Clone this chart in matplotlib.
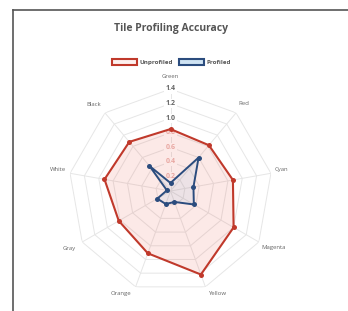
import numpy as np
import matplotlib
matplotlib.use("Agg")
import matplotlib.pyplot as plt
from matplotlib.patches import Patch
from matplotlib.lines import Line2D

categories = ["Green", "Red", "Cyan", "Magenta", "Yellow", "Orange", "Gray", "White", "Black"]
unprofiled = [0.85, 0.82, 0.87, 1.00, 1.22, 0.91, 0.82, 0.92, 0.88]
profiled = [0.11, 0.60, 0.32, 0.37, 0.16, 0.19, 0.21, 0.05, 0.45]
tick_values = [0.2, 0.4, 0.6, 0.8, 1.0, 1.2, 1.4]
tick_labels = ["0.2", "0.4", "0.6", "0.8", "1.0", "1.2", "1.4"]
series_names = ["Unprofiled", "Profiled"]
title = "Tile Profiling Accuracy"

plt.rcParams['font.family'] = ['Open Sans', 'DejaVu Sans']

W, H = 348, 311
fig = plt.figure(figsize=(W / 100, H / 100), dpi=100)
fig.patch.set_facecolor('white')

cx, cy = 170.5, 191.0
rx, ry = 111.0, 102.0
ax = fig.add_axes([(cx - rx) / W, (H - cy - ry) / H, 2 * rx / W, 2 * ry / H], projection='polar')
ax.set_theta_zero_location('N')
ax.set_theta_direction(-1)
ax.set_ylim(0, 1.4)
ax.grid(False)
ax.spines['polar'].set_visible(False)
ax.set_xticks([])
ax.set_yticks([])
ax.patch.set_alpha(0)

n = len(categories)
angles = np.arange(n) * 2 * np.pi / n
closed = np.concatenate([angles, angles[:1]])

grid_c = '#e6e6e6'
for r in tick_values:
    ax.plot(closed, [r] * (n + 1), color=grid_c, lw=0.7, zorder=1)
for a in angles:
    ax.plot([a, a], [0, 1.4], color=grid_c, lw=0.7, zorder=1)

red = '#c0392b'
blue = '#2b4c7e'
inner_limit = min(unprofiled)
for v, lab in zip(tick_values, tick_labels):
    col = '#666666' if v > inner_limit else '#e9b4b0'
    ax.text(0, v, lab, ha='center', va='center', fontsize=5, color=col,
            fontweight='bold', zorder=2,
            bbox=dict(boxstyle='square,pad=0.15', fc='white', ec='none'))

u = np.concatenate([unprofiled, unprofiled[:1]])
p = np.concatenate([profiled, profiled[:1]])
ax.fill(closed, u, color='#e74c3c', alpha=0.12, zorder=3, lw=0)
ax.plot(closed, u, color=red, lw=1.5, zorder=4)
ax.plot(angles, unprofiled, 'o', color=red, ms=3.6, mew=0, zorder=5)
ax.fill(closed, p, color='#3498db', alpha=0.08, zorder=3, lw=0)
ax.plot(closed, p, color=blue, lw=1.4, zorder=6)
ax.plot(angles, profiled, 'o', color=blue, ms=3.6, mew=0, zorder=7)

offsets = {
    "Green": (0, 12, 'center'), "Red": (2, 9, 'left'), "Cyan": (4, 4, 'left'),
    "Magenta": (3, -6, 'left'), "Yellow": (3, -7, 'left'), "Orange": (-4, -7, 'right'),
    "Gray": (-6, -6, 'right'), "White": (-4, 4, 'right'), "Black": (-4, 8, 'right'),
}
for a, c in zip(angles, categories):
    dx, dy, ha = offsets[c]
    ax.annotate(c, xy=(a, 1.4), xytext=(dx, dy), textcoords='offset pixels',
                ha=ha, va='center', fontsize=4.3, color='#666666', annotation_clip=False)

fig.text(171 / W, 1 - 28 / H, title, ha='center', va='center', fontsize=7.5,
         fontweight='bold', color='#555555')

handles = [Patch(facecolor='#fdf0ee', edgecolor=red, lw=1.5),
           Patch(facecolor='#cfe3f3', edgecolor=blue, lw=1.5)]
fig.legend(handles, series_names, loc='center', bbox_to_anchor=(171 / W, 1 - 62 / H),
           ncol=2, frameon=False, handlelength=4.0, handleheight=1.2,
           handletextpad=0.4, columnspacing=1.0, labelcolor='#555555',
           prop={'weight': 'bold', 'size': 4.5})

fig.add_artist(Line2D([13 / W, 13 / W], [0, 1 - 10 / H], color='#555555', lw=1.2))
fig.add_artist(Line2D([13 / W, 1], [1 - 10 / H, 1 - 10 / H], color='#555555', lw=1.2))

fig.savefig('out.png', dpi=100, facecolor='white')
